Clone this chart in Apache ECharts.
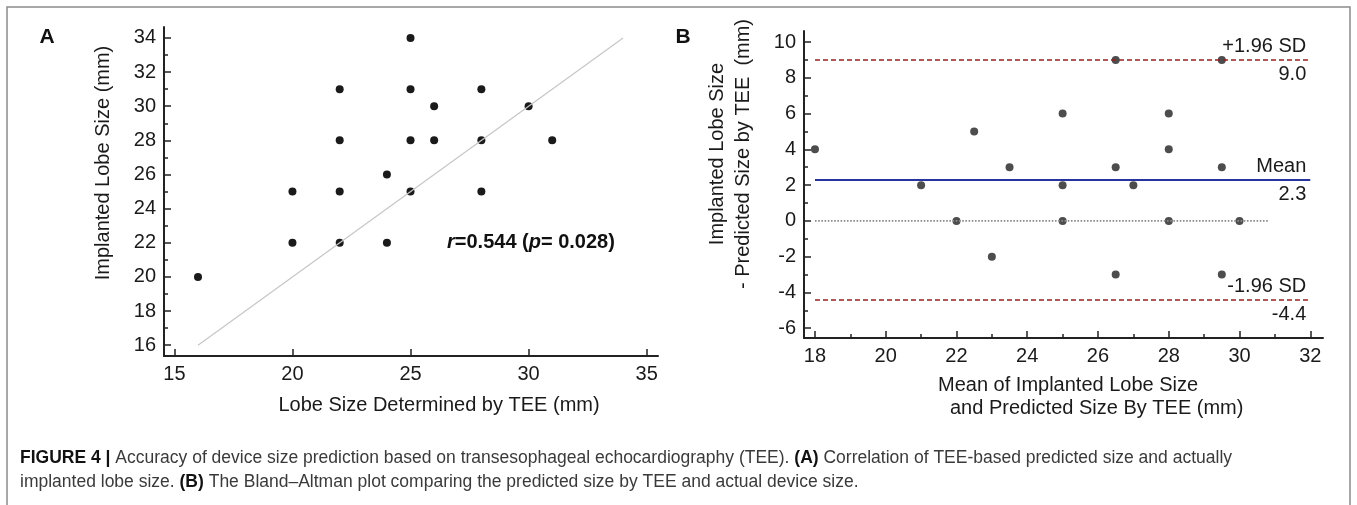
<!DOCTYPE html>
<html>
<head>
<meta charset="utf-8">
<title>Figure 4</title>
<script src="https://cdn.jsdelivr.net/npm/echarts@6/dist/echarts.min.js"></script>
<style>
  html, body { margin: 0; padding: 0; background: #fff; }
  #main { width: 1357px; height: 505px; }
</style>
</head>
<body>
<div id="main"></div>
<script>
// A: lobe size by TEE vs implanted lobe size
var teeSize       = [16, 20, 20, 22, 22, 22, 22, 24, 24, 25, 25, 25, 25, 26, 26, 28, 28, 28, 30, 31];
var implantedSize = [20, 22, 25, 22, 25, 28, 31, 22, 26, 25, 28, 31, 34, 28, 30, 25, 28, 31, 30, 28];
var identityLine  = [16, 34];
var aXTicks = [15, 20, 25, 30, 35];
var aYTicks = [16, 18, 20, 22, 24, 26, 28, 30, 32, 34];
var aYMinor = [17, 19, 21, 23, 25, 27, 29, 31, 33];

// B: Bland-Altman
var meanSize = [18, 21, 22, 22.5, 23, 23.5, 25, 25, 25, 26.5, 26.5, 26.5, 27, 28, 28, 28, 29.5, 29.5, 29.5, 30];
var sizeDiff = [4, 2, 0, 5, -2, 3, 0, 2, 6, -3, 3, 9, 2, 0, 4, 6, -3, 3, 9, 0];
var bXTicks = [18, 20, 22, 24, 26, 28, 30, 32];
var bXMinor = [19, 21, 23, 25, 27, 29, 31];
var bYTicks = [-6, -4, -2, 0, 2, 4, 6, 8, 10];
var bYMinor = [-5, -3, -1, 1, 3, 5, 7, 9];
var upperLimit = 9.0;
var meanDiff = 2.3;
var lowerLimit = -4.4;
var limitSpan = [18, 32];
var zeroSpan = [18, 30.8];

var FONT = '"Liberation Sans", Arial, sans-serif';
var INK = '#1a1a1a';

function pairs(xs, ys) {
  var out = [];
  for (var i = 0; i < xs.length; i++) out.push([xs[i], ys[i]]);
  return out;
}

function mainAxis(g, min, max, ticks, pos) {
  return {
    type: 'value', gridIndex: g, min: min, max: max, position: pos,
    axisLine: { show: true, onZero: false, lineStyle: { color: '#222', width: 2 } },
    axisTick: { show: true, inside: true, length: 7, customValues: ticks, lineStyle: { color: '#222', width: 1.5 } },
    axisLabel: { customValues: ticks, margin: 8, color: INK, fontSize: 20, fontFamily: FONT },
    splitLine: { show: false }
  };
}

function minorAxis(g, min, max, ticks, pos) {
  return {
    type: 'value', gridIndex: g, min: min, max: max, position: pos,
    axisLine: { show: false, onZero: false },
    axisTick: { show: true, inside: true, length: 4, customValues: ticks, lineStyle: { color: '#222', width: 1.5 } },
    axisLabel: { show: false },
    splitLine: { show: false }
  };
}

// each limit: a drawn line with its name above, and a clear copy carrying the value below
function limitLine(val, top, bottom, color, type, width) {
  var a = [{ coord: [limitSpan[0], val] }, { coord: [limitSpan[1], val] }];
  var b = [{ coord: [limitSpan[0], val] }, { coord: [limitSpan[1], val] }];
  a[0].lineStyle = { color: color, type: type, width: width };
  a[0].label = { formatter: top, position: 'insideEndTop', distance: [4, 3] };
  b[0].lineStyle = { color: 'rgba(0,0,0,0)', width: 1 };
  b[0].label = { formatter: bottom, position: 'insideEndBottom', distance: [4, 5] };
  return [a, b];
}

var chart = echarts.init(document.getElementById('main'));

var limits = []
  .concat(limitLine(upperLimit, '+1.96 SD', upperLimit.toFixed(1), '#9a1e1e', [5, 3], 1.6))
  .concat(limitLine(meanDiff, 'Mean', meanDiff.toFixed(1), '#26349e', 'solid', 2))
  .concat(limitLine(lowerLimit, '-1.96 SD', lowerLimit.toFixed(1), '#9a1e1e', [5, 3], 1.6));

var option = {
  animation: false,
  grid: [
    { left: 164, top: 27, width: 494, height: 329 },
    { left: 804, top: 31, width: 519, height: 307 }
  ],
  xAxis: [
    mainAxis(0, 14.56, 35.48, aXTicks, 'bottom'),
    mainAxis(1, 17.69, 32.36, bXTicks, 'bottom'),
    minorAxis(1, 17.69, 32.36, bXMinor, 'bottom')
  ],
  yAxis: [
    mainAxis(0, 15.37, 34.64, aYTicks, 'left'),
    minorAxis(0, 15.37, 34.64, aYMinor, 'left'),
    mainAxis(1, -6.55, 10.62, bYTicks, 'left'),
    minorAxis(1, -6.55, 10.62, bYMinor, 'left')
  ],
  series: [
    {
      type: 'line', xAxisIndex: 0, yAxisIndex: 0, silent: true,
      data: [[identityLine[0], identityLine[0]], [identityLine[1], identityLine[1]]],
      symbol: 'none', lineStyle: { color: '#c6c6c6', width: 1.2 }
    },
    {
      type: 'scatter', xAxisIndex: 0, yAxisIndex: 0,
      data: pairs(teeSize, implantedSize),
      symbolSize: 8, itemStyle: { color: INK, opacity: 1 }
    },
    {
      type: 'line', xAxisIndex: 1, yAxisIndex: 2, silent: true,
      data: [[zeroSpan[0], 0], [zeroSpan[1], 0]],
      symbol: 'none', lineStyle: { color: '#8a8a8a', width: 1.6, type: 'dotted' },
      markLine: {
        silent: true, symbol: 'none',
        label: { color: INK, fontSize: 20, fontFamily: FONT },
        data: limits
      }
    },
    {
      type: 'scatter', xAxisIndex: 1, yAxisIndex: 2,
      data: pairs(meanSize, sizeDiff),
      symbolSize: 8, itemStyle: { color: '#4d4d4d', opacity: 1 }
    }
  ],
  graphic: [
    { type: 'rect', shape: { x: 7, y: 7, width: 1343, height: 530 }, style: { fill: 'none', stroke: '#8c8c8c', lineWidth: 1.5 } },
    { type: 'text', x: 47, y: 37, style: { text: 'A', fontSize: 21, fontWeight: 'bold', fontFamily: FONT, fill: '#111', textAlign: 'center', textVerticalAlign: 'middle' } },
    { type: 'text', x: 683, y: 37, style: { text: 'B', fontSize: 21, fontWeight: 'bold', fontFamily: FONT, fill: '#111', textAlign: 'center', textVerticalAlign: 'middle' } },
    { type: 'text', x: 103, y: 163, rotation: Math.PI / 2, style: { text: 'Implanted Lobe Size (mm)', fontSize: 20, fontFamily: FONT, fill: INK, textAlign: 'center', textVerticalAlign: 'middle' } },
    { type: 'text', x: 439, y: 405, style: { text: 'Lobe Size Determined by TEE (mm)', fontSize: 20, fontFamily: FONT, fill: INK, textAlign: 'center', textVerticalAlign: 'middle' } },
    {
      type: 'text', x: 447, y: 242,
      style: {
        text: '{i|r}{b|=0.544 (}{i|p}{b|= 0.028)}',
        fontSize: 20, fontFamily: FONT, fill: '#111', textAlign: 'left', textVerticalAlign: 'middle',
        rich: {
          i: { fontSize: 20, fontFamily: FONT, fontWeight: 'bold', fontStyle: 'italic', fill: '#111' },
          b: { fontSize: 20, fontFamily: FONT, fontWeight: 'bold', fill: '#111' }
        }
      }
    },
    { type: 'text', x: 730, y: 154, rotation: Math.PI / 2, style: { text: 'Implanted Lobe Size\n- Predicted Size by TEE  (mm)', fontSize: 20, lineHeight: 26, fontFamily: FONT, fill: INK, textAlign: 'center', textVerticalAlign: 'middle' } },
    { type: 'text', x: 938, y: 385, style: { text: 'Mean of Implanted Lobe Size', fontSize: 20, fontFamily: FONT, fill: INK, textAlign: 'left', textVerticalAlign: 'middle' } },
    { type: 'text', x: 950, y: 408, style: { text: 'and Predicted Size By TEE (mm)', fontSize: 20, fontFamily: FONT, fill: INK, textAlign: 'left', textVerticalAlign: 'middle' } },
    {
      type: 'text', x: 20, y: 458,
      style: {
        text: '{b|FIGURE 4 |} Accuracy of device size prediction based on transesophageal echocardiography (TEE). {b|(A)} Correlation of TEE-based predicted size and actually',
        fontSize: 17.5, fontFamily: FONT, fill: '#3a3a3a', textAlign: 'left', textVerticalAlign: 'middle',
        rich: { b: { fontSize: 17.5, fontFamily: FONT, fontWeight: 'bold', fill: '#111' } }
      }
    },
    {
      type: 'text', x: 20, y: 482,
      style: {
        text: 'implanted lobe size. {b|(B)} The Bland\u2013Altman plot comparing the predicted size by TEE and actual device size.',
        fontSize: 17.5, fontFamily: FONT, fill: '#3a3a3a', textAlign: 'left', textVerticalAlign: 'middle',
        rich: { b: { fontSize: 17.5, fontFamily: FONT, fontWeight: 'bold', fill: '#111' } }
      }
    }
  ]
};

chart.setOption(option);
</script>
</body>
</html>
